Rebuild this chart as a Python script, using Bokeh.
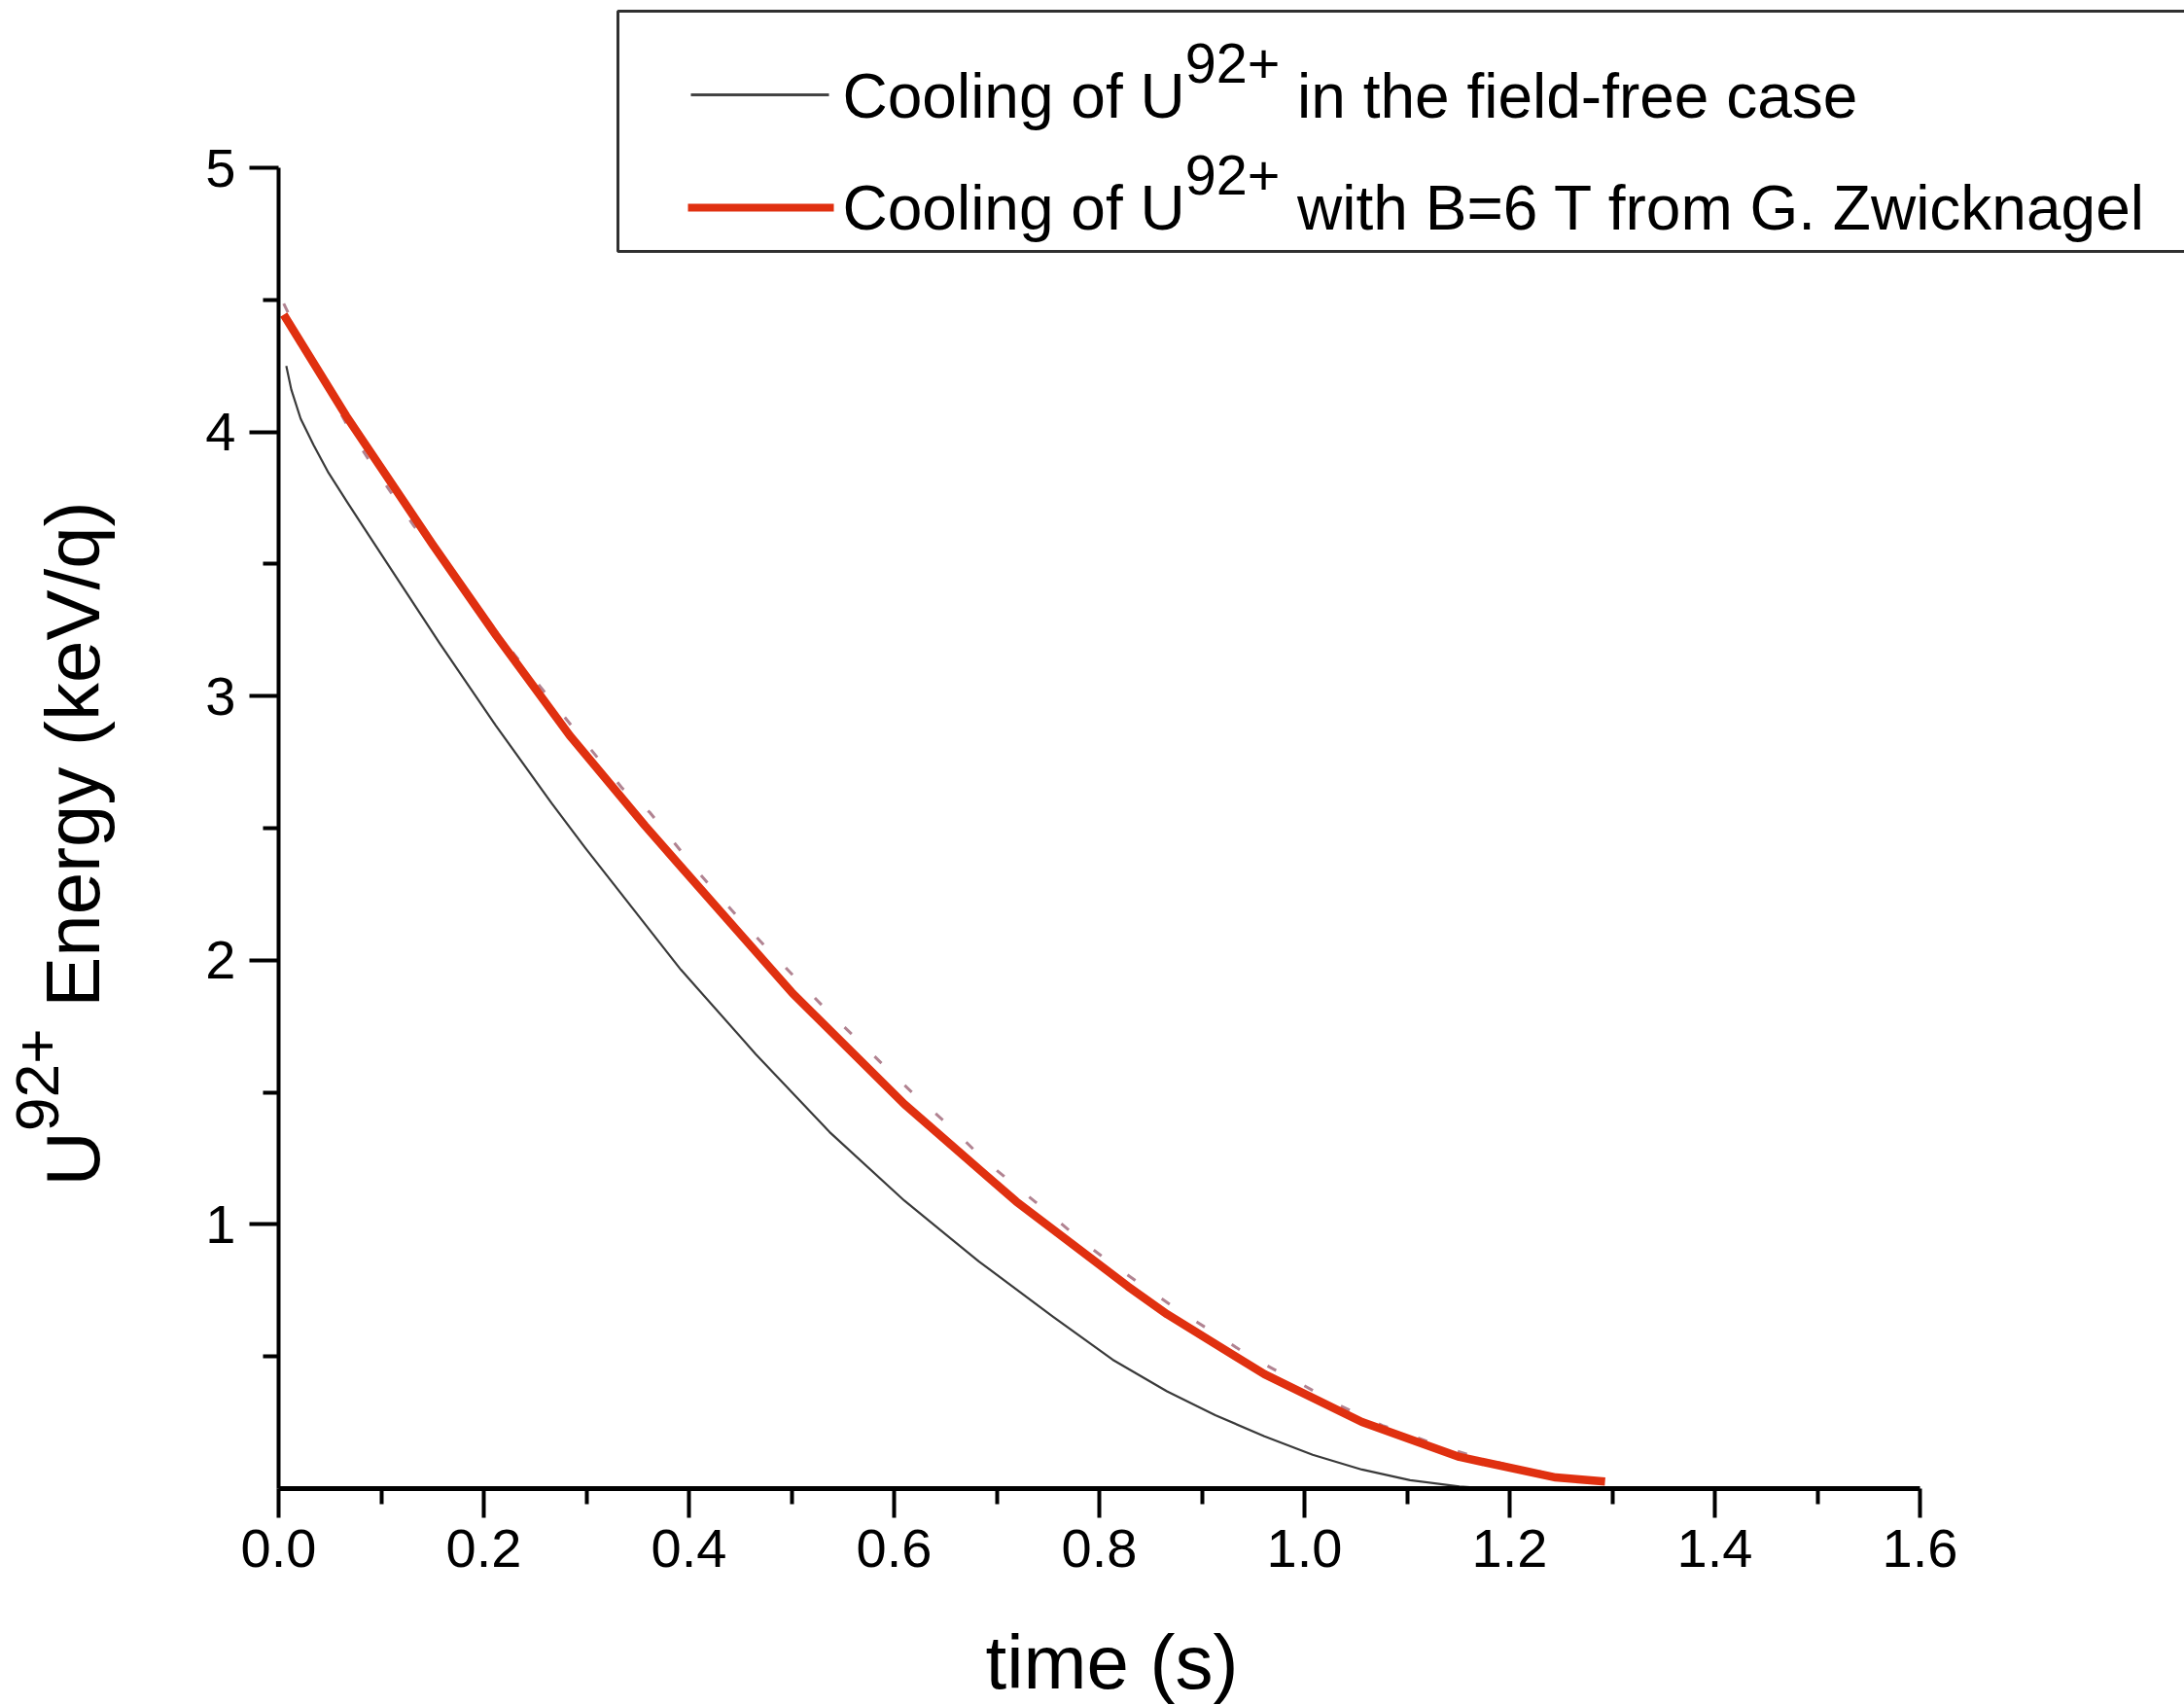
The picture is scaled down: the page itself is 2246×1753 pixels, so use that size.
from math import pi
from bokeh.plotting import figure
from bokeh.layouts import row, column
from bokeh.models import Range1d, FixedTicker, PrintfTickFormatter, Label, BoxAnnotation
from bokeh.embed import file_html
from bokeh.resources import INLINE

# ---------------- data ----------------
# field-free cooling (thin dark line)
free_t = [0.0075, 0.0124, 0.0215, 0.0342, 0.0487, 0.0668, 0.0886, 0.108, 0.157, 0.2115,
          0.266, 0.299, 0.392, 0.465, 0.537, 0.610, 0.6825, 0.755, 0.813, 0.866,
          0.913, 0.961, 1.008, 1.056, 1.103, 1.151, 1.18]
free_E = [4.25, 4.16, 4.05, 3.95, 3.845, 3.735, 3.605, 3.49, 3.20, 2.89,
          2.595, 2.425, 1.965, 1.645, 1.35, 1.09, 0.86, 0.65, 0.488, 0.368,
          0.278, 0.198, 0.128, 0.072, 0.032, 0.008, 0.0]

# B = 6 T cooling (thick red line)
mag_t = [0.005, 0.066, 0.150, 0.212, 0.284, 0.357, 0.392, 0.501, 0.610, 0.719,
         0.828, 0.866, 0.961, 1.056, 1.151, 1.245, 1.293]
mag_E = [4.444, 4.06, 3.575, 3.23, 2.85, 2.51, 2.355, 1.875, 1.455, 1.087,
         0.765, 0.66, 0.433, 0.252, 0.12, 0.042, 0.027]

# faint dashed reference curve
ref_t = [0.005, 0.023, 0.069, 0.087, 0.108, 0.132, 0.154, 0.173, 0.288, 0.313,
         0.335, 0.362, 0.403, 0.430, 0.454, 0.481, 0.509, 0.537, 0.566, 0.595,
         0.626, 0.657, 0.688, 0.721, 0.750, 0.782, 0.813, 0.844, 0.877, 0.912,
         0.948, 0.990, 1.032, 1.076, 1.119, 1.159, 1.204, 1.233]
ref_E = [4.486, 4.34, 4.01, 3.90, 3.78, 3.644, 3.539, 3.433, 2.876, 2.757,
         2.651, 2.559, 2.361, 2.24, 2.137, 2.025, 1.913, 1.80, 1.694, 1.582,
         1.469, 1.363, 1.243, 1.138, 1.046, 0.940, 0.849, 0.764, 0.675, 0.589,
         0.497, 0.411, 0.319, 0.239, 0.180, 0.129, 0.0835, 0.061]

x_ticks = [0.0, 0.2, 0.4, 0.6, 0.8, 1.0, 1.2, 1.4, 1.6]
x_minor = [0.1, 0.3, 0.5, 0.7, 0.9, 1.1, 1.3, 1.5]
y_ticks = [1, 2, 3, 4, 5]
y_minor = [0.5, 1.5, 2.5, 3.5, 4.5]

legend_1 = ("Cooling of U", "92+", "in the field-free case")
legend_2 = ("Cooling of U", "92+", "with B=6 T from G. Zwicknagel")
y_title = ("U", "92+", "Energy (keV/q)")
x_title = "time (s)"

# ---------------- layout ----------------
W, H = 2246, 1753
TITLE_W = 150           # strip holding the vertical title
STRIP_H = 113           # strip holding the horizontal title
MAIN_H = H - STRIP_H
FRAME_LEFT = 286        # canvas x of t = 0
FRAME_BOTTOM = 1530     # canvas y of E = 0
PXU_X, PXU_Y = 1055.0, 271.6
XMAX = (W - FRAME_LEFT) / PXU_X
YMAX = FRAME_BOTTOM / PXU_Y
FONT = "Liberation Sans"
DROP = 0.36             # labels sit this fraction of their size below the anchor


def dx(px):
    return (px - FRAME_LEFT) / PXU_X


def dy(py):
    return (FRAME_BOTTOM - py) / PXU_Y


AW = {' ': 278, 'C': 722, 'o': 556, 'l': 222, 'i': 222, 'n': 556, 'g': 556, 'f': 278,
      'U': 722, '9': 556, '2': 556, '+': 584, 't': 278, 'h': 556, 'e': 556, 'd': 556,
      '-': 333, 'r': 333, 'c': 500, 'a': 556, 's': 500, 'w': 722, 'B': 667, '=': 584,
      '6': 556, 'T': 611, 'm': 833, 'G': 778, '.': 278, 'Z': 611, 'k': 500, 'E': 667,
      'y': 500, '(': 333, ')': 333, 'V': 667, '/': 278, 'q': 556}


def tw(s, size):
    return sum(AW.get(c, 556) for c in s) / 1000.0 * size


def lab(fig, x, y, text, size, **kw):
    fig.add_layout(Label(x=x, y=y, text=text, text_font=FONT,
                         text_font_size=f"{size:.1f}px", text_baseline="middle",
                         text_color="black", **kw))


# ---------------- main plot ----------------
p = figure(width=W - TITLE_W, height=MAIN_H,
           x_range=Range1d(0, XMAX), y_range=Range1d(0, YMAX),
           output_backend="svg", toolbar_location=None,
           min_border_left=FRAME_LEFT - TITLE_W, min_border_bottom=MAIN_H - FRAME_BOTTOM,
           min_border_top=0, min_border_right=0)
p.grid.visible = False
p.outline_line_color = None
p.background_fill_color = "white"
p.border_fill_color = "white"

for ax in (p.xaxis[0], p.yaxis[0]):
    ax.axis_line_width = 4
    ax.axis_line_color = "black"
    ax.major_tick_line_width = 4
    ax.minor_tick_line_width = 4
    ax.major_tick_line_color = "black"
    ax.minor_tick_line_color = "black"
    ax.major_tick_in = 0
    ax.major_tick_out = 30
    ax.minor_tick_in = 0
    ax.minor_tick_out = 16
    ax.major_label_text_font = FONT
    ax.major_label_text_font_size = "56px"
    ax.major_label_text_color = "black"

p.xaxis[0].axis_line_width = 5
p.xaxis[0].bounds = (0, 1.6)
p.yaxis[0].bounds = (0, 5)
p.xaxis[0].ticker = FixedTicker(ticks=x_ticks, minor_ticks=x_minor)
p.yaxis[0].ticker = FixedTicker(ticks=y_ticks, minor_ticks=y_minor)
p.xaxis[0].formatter = PrintfTickFormatter(format="%.1f")
p.xaxis[0].major_label_standoff = 12
p.yaxis[0].major_label_standoff = 14

# curves
p.line(ref_t, ref_E, line_color="#a87585", line_width=3, line_dash="10 33", line_alpha=0.9)
p.line(free_t, free_E, line_color="#3a3a3a", line_width=2.2, line_join="round")
p.line(mag_t, mag_E, line_color="#e03010", line_width=8.5, line_join="round")

# legend box
box = BoxAnnotation(left=dx(635), right=XMAX + 0.1, top=dy(11), bottom=dy(258),
                    fill_color="white", fill_alpha=1.0, line_color="#303030",
                    line_alpha=1.0, line_width=3, level="underlay")
p.add_layout(box)
p.segment(x0=[dx(710)], y0=[dy(97)], x1=[dx(852)], y1=[dy(97)],
          line_color="#444444", line_width=3)
p.segment(x0=[dx(707)], y0=[dy(213)], x1=[dx(857)], y1=[dy(213)],
          line_color="#e03010", line_width=8)

LF = 64
LSUP = 0.9


def legend_line(parts, px, py):
    a, b, c = parts
    x = px
    lab(p, dx(x), dy(py - DROP * LF), a, LF, text_align="left")
    x += tw(a, LF)
    sb = py - 0.58 * LF
    lab(p, dx(x), dy(sb - DROP * LF * LSUP), b, LF * LSUP, text_align="left")
    x += tw(b, LF * LSUP) + tw(" ", LF)
    lab(p, dx(x), dy(py - DROP * LF), c, LF, text_align="left")


legend_line(legend_1, 866, 122)
legend_line(legend_2, 866, 237)

# ---------------- vertical title strip ----------------
# its frame is aligned by the row with the main frame: canvas y 0 .. FRAME_BOTTOM
t = figure(width=TITLE_W, height=MAIN_H, x_range=Range1d(0, TITLE_W),
           y_range=Range1d(0, FRAME_BOTTOM), x_axis_type=None, y_axis_type=None,
           output_backend="svg", toolbar_location=None, min_border=0,
           min_border_bottom=MAIN_H - FRAME_BOTTOM)
t.grid.visible = False
t.outline_line_color = None
t.border_fill_color = "white"

YF = 78
YSUP = 0.8
bx, by = 103, 1219       # baseline x, start of text (canvas px)
a, b, c = y_title
wa = tw(a, YF)
lab(t, bx - DROP * YF, FRAME_BOTTOM - (by - wa / 2), a, YF, angle=pi / 2, text_align="center")
by -= wa
wb = tw(b, YF * YSUP)
sbx = bx - 0.54 * YF
lab(t, sbx - DROP * YF * YSUP, FRAME_BOTTOM - (by - wb / 2), b, YF * YSUP, angle=pi / 2,
    text_align="center")
by -= wb + tw(" ", YF)
wc = tw(c, YF)
lab(t, bx - DROP * YF, FRAME_BOTTOM - (by - wc / 2), c, YF, angle=pi / 2, text_align="center")

# ---------------- horizontal title strip ----------------
s = figure(width=W, height=STRIP_H, x_range=Range1d(0, W), y_range=Range1d(0, STRIP_H),
           x_axis_type=None, y_axis_type=None,
           output_backend="svg", toolbar_location=None, min_border=0)
s.grid.visible = False
s.outline_line_color = None
s.border_fill_color = "white"
lab(s, 1143, H - (1737 - DROP * 78), x_title, 78, text_align="center")

layout = column(row(t, p), s)
open("out.html", "w").write(file_html(layout, INLINE))
